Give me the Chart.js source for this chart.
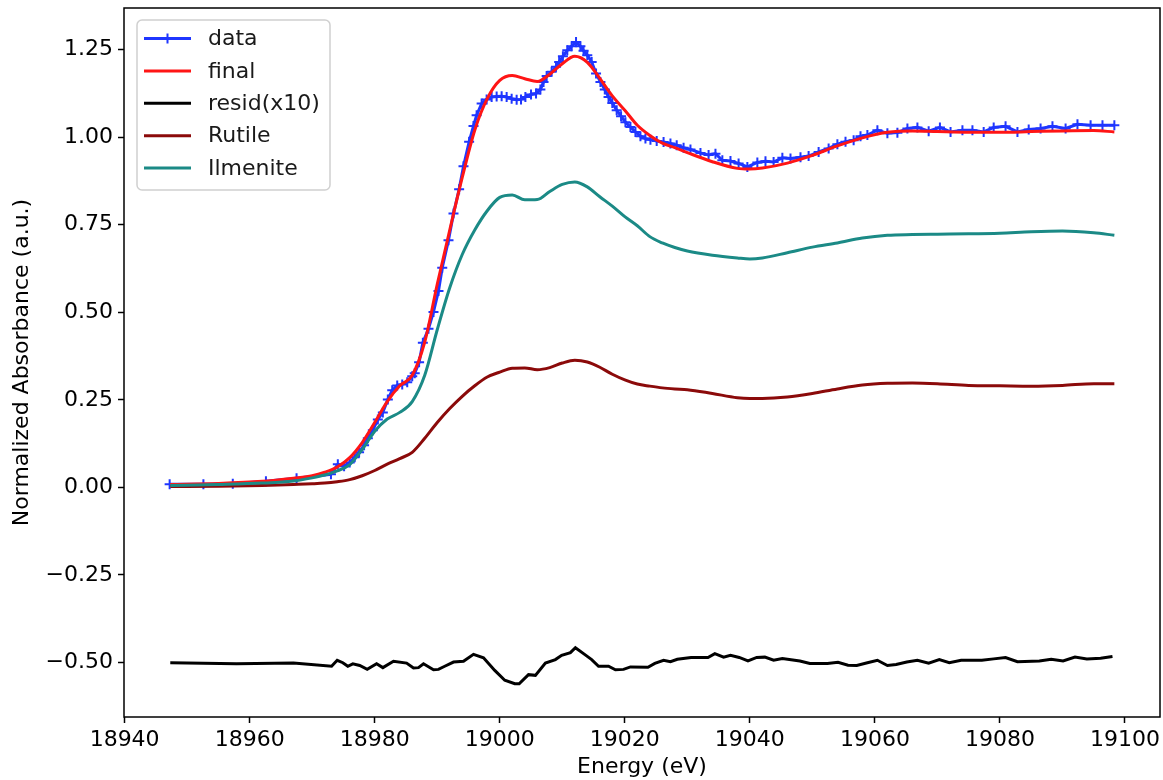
<!DOCTYPE html>
<html>
<head>
<meta charset="utf-8">
<title>Ti K-edge XANES fit</title>
<script src="https://cdn.jsdelivr.net/npm/chart.js@4.4.1/dist/chart.umd.min.js"></script>
<style>
    html, body { margin: 0; padding: 0; background: #fff; }
    #wrap { width: 1163px; height: 780px; }
</style>
</head>
<body>
<div id="wrap"><canvas id="xanesChart" width="1163" height="780"></canvas></div>
<script>
// ── Data ─────────────────────────────────────────────────────
const dataEnergy = [
    18947.2, 18952.6, 18957.3, 18962.6, 18967.5, 18973.0, 18974.1, 18975.1, 18976.0, 18976.8,
    18977.5, 18978.3, 18978.9, 18979.7, 18980.5, 18981.3, 18982.1, 18982.8, 18983.6, 18984.4,
    18985.2, 18986.0, 18986.4, 18987.1, 18987.7, 18988.6, 18989.4, 18990.2, 18990.8, 18991.8,
    18992.6, 18993.5, 18994.2, 18995.1, 18995.8, 18996.3, 18997.1, 18997.9, 18998.7, 18999.5,
    19000.3, 19001.1, 19001.9, 19002.7, 19003.4, 19004.1, 19005.0, 19005.8, 19006.5, 19007.0,
    19007.5, 19008.3, 19009.0, 19009.5, 19010.1, 19010.8, 19011.5, 19012.2, 19012.9, 19013.4,
    19014.0, 19014.7, 19015.4, 19016.1, 19016.8, 19017.4, 19018.0, 19018.7, 19019.4, 19020.1,
    19020.9, 19021.7, 19022.5, 19023.3, 19024.1, 19025.1, 19026.2, 19027.3, 19028.3, 19029.4,
    19030.5, 19032.1, 19033.4, 19034.5, 19035.6, 19036.9, 19038.2, 19039.6, 19041.2, 19042.5,
    19043.8, 19045.2, 19046.5, 19048.1, 19049.4, 19051.0, 19052.6, 19054.0, 19055.3, 19056.6,
    19057.7, 19058.8, 19060.4, 19062.0, 19063.6, 19065.2, 19066.8, 19068.6, 19070.4, 19072.1,
    19074.0, 19075.6, 19077.4, 19079.0, 19080.9, 19082.8, 19084.6, 19086.5, 19088.4, 19090.5,
    19092.4, 19094.5, 19096.4, 19098.3
];
const dataMu = [
    0.009, 0.009, 0.010, 0.017, 0.026, 0.037, 0.066, 0.060, 0.071, 0.086,
    0.100, 0.120, 0.140, 0.163, 0.194, 0.214, 0.251, 0.277, 0.291, 0.294,
    0.300, 0.317, 0.326, 0.357, 0.413, 0.453, 0.501, 0.561, 0.627, 0.706,
    0.782, 0.851, 0.917, 0.987, 1.032, 1.063, 1.096, 1.108, 1.115, 1.116,
    1.117, 1.115, 1.110, 1.107, 1.108, 1.115, 1.122, 1.125, 1.136, 1.158,
    1.175, 1.187, 1.201, 1.215, 1.231, 1.248, 1.260, 1.272, 1.260, 1.247,
    1.234, 1.215, 1.182, 1.158, 1.136, 1.115, 1.098, 1.077, 1.060, 1.043,
    1.029, 1.015, 1.003, 0.996, 0.993, 0.989, 0.986, 0.982, 0.977, 0.970,
    0.965, 0.955, 0.949, 0.953, 0.934, 0.932, 0.925, 0.915, 0.928, 0.931,
    0.929, 0.941, 0.939, 0.943, 0.946, 0.958, 0.968, 0.980, 0.987, 0.991,
    1.003, 1.006, 1.020, 1.011, 1.013, 1.025, 1.028, 1.017, 1.028, 1.015,
    1.020, 1.020, 1.015, 1.028, 1.031, 1.015, 1.022, 1.025, 1.031, 1.025,
    1.037, 1.034, 1.034, 1.034
];

const fitEnergy = [
    18947.3, 18955, 18962, 18967, 18970, 18972, 18974, 18976, 18978, 18980,
    18982, 18984, 18986, 18988, 18990, 18992, 18994, 18996, 18998, 19000,
    19002, 19004, 19006, 19008, 19010, 19012, 19014, 19016, 19018, 19020,
    19022, 19024, 19026, 19028, 19030, 19034, 19038, 19040, 19042, 19046,
    19050, 19054, 19058, 19062, 19066, 19070, 19075, 19080, 19085, 19090,
    19095, 19098.3
];
const finalFit = [
    0.008, 0.011, 0.017, 0.026, 0.033, 0.043, 0.058, 0.085, 0.128, 0.185,
    0.245, 0.290, 0.320, 0.415, 0.580, 0.735, 0.885, 1.020, 1.110, 1.162,
    1.176, 1.167, 1.159, 1.180, 1.210, 1.231, 1.214, 1.168, 1.118, 1.077,
    1.034, 1.005, 0.983, 0.970, 0.956, 0.930, 0.911, 0.909, 0.912, 0.926,
    0.948, 0.975, 0.998, 1.014, 1.018, 1.016, 1.014, 1.014, 1.016, 1.018,
    1.019, 1.015
];
const ilmeniteRef = [
    0.005, 0.008, 0.012, 0.018, 0.027, 0.035, 0.047, 0.065, 0.108, 0.160,
    0.195, 0.214, 0.245, 0.320, 0.450, 0.570, 0.665, 0.735, 0.790, 0.828,
    0.835, 0.821, 0.822, 0.845, 0.865, 0.872, 0.858, 0.830, 0.803, 0.773,
    0.747, 0.716, 0.698, 0.685, 0.675, 0.663, 0.655, 0.652, 0.655, 0.670,
    0.686, 0.698, 0.712, 0.720, 0.722, 0.723, 0.724, 0.726, 0.730, 0.732,
    0.727, 0.720
];
const rutileRef = [
    0.002, 0.003, 0.005, 0.008, 0.010, 0.012, 0.016, 0.022, 0.033, 0.048,
    0.066, 0.082, 0.100, 0.140, 0.185, 0.225, 0.260, 0.290, 0.315, 0.329,
    0.340, 0.341, 0.336, 0.342, 0.355, 0.363, 0.358, 0.343, 0.323, 0.307,
    0.295, 0.289, 0.284, 0.281, 0.279, 0.268, 0.256, 0.254, 0.254, 0.258,
    0.268, 0.281, 0.292, 0.297, 0.298, 0.296, 0.291, 0.290, 0.289, 0.291,
    0.296, 0.296
];

const residEnergy = [
    18947.3, 18957.9, 18967.0, 18973.1, 18974.0, 18974.9, 18975.7, 18976.5, 18977.6, 18978.8,
    18980.3, 18981.3, 18983.0, 18985.1, 18986.2, 18987.0, 18987.8, 18989.4, 18990.2, 18991.2,
    18992.6, 18994.2, 18995.8, 18997.4, 18999.2, 19000.8, 19002.4, 19003.1, 19004.6, 19005.7,
    19007.3, 19008.9, 19009.9, 19011.3, 19012.1, 19013.4, 19014.7, 19015.8, 19017.4, 19018.5,
    19019.8, 19020.9, 19023.7, 19024.8, 19026.2, 19027.3, 19028.4, 19030.6, 19033.3, 19034.4,
    19035.8, 19036.9, 19038.3, 19039.7, 19041.1, 19042.4, 19043.8, 19045.2, 19048.0, 19049.6,
    19052.4, 19054.1, 19055.7, 19057.1, 19058.8, 19060.4, 19062.0, 19063.4, 19065.1, 19066.8,
    19068.6, 19070.3, 19071.9, 19073.8, 19077.1, 19079.0, 19080.9, 19082.8, 19086.3, 19088.2,
    19090.1, 19092.0, 19093.9, 19096.1, 19098.0
];
const residX10 = [
    -0.501, -0.504, -0.502, -0.511, -0.494, -0.501, -0.511, -0.504, -0.509, -0.520,
    -0.504, -0.515, -0.497, -0.502, -0.516, -0.515, -0.504, -0.521, -0.520, -0.511,
    -0.499, -0.497, -0.477, -0.487, -0.523, -0.551, -0.561, -0.561, -0.535, -0.537,
    -0.502, -0.492, -0.480, -0.472, -0.458, -0.475, -0.492, -0.511, -0.511, -0.521,
    -0.520, -0.513, -0.514, -0.503, -0.494, -0.498, -0.491, -0.486, -0.486, -0.475,
    -0.485, -0.480, -0.486, -0.496, -0.486, -0.485, -0.494, -0.489, -0.496, -0.503,
    -0.503, -0.500, -0.508, -0.509, -0.501, -0.494, -0.509, -0.506, -0.499, -0.494,
    -0.502, -0.492, -0.501, -0.494, -0.494, -0.490, -0.486, -0.498, -0.496, -0.491,
    -0.496, -0.485, -0.490, -0.488, -0.483
];

const seriesLabels = ['data', 'final', 'resid(x10)', 'Rutile', 'Ilmenite'];
const xTicks = [18940, 18960, 18980, 19000, 19020, 19040, 19060, 19080, 19100];
const yTicks = [-0.5, -0.25, 0, 0.25, 0.5, 0.75, 1.0, 1.25];

// ── Helpers ──────────────────────────────────────────────────
const FONT = 'DejaVu Sans';
const FONT_SIZE = 22;
const toPoints = (xs, ys) => xs.map((x, i) => ({ x: x, y: ys[i] }));
const fmtY = v => (v < 0 ? '\u2212' : '') + Math.abs(v).toFixed(2);

// frame on all four sides, like matplotlib spines
const framePlugin = {
    id: 'frame',
    afterDatasetsDraw(chart) {
        const a = chart.chartArea;
        const ctx = chart.ctx;
        ctx.save();
        ctx.strokeStyle = '#000';
        ctx.lineWidth = 1.5;
        ctx.strokeRect(a.left, a.top, a.right - a.left, a.bottom - a.top);
        ctx.restore();
    }
};

// legend box in the upper left corner
const legendPlugin = {
    id: 'boxLegend',
    afterDraw(chart) {
        const ctx = chart.ctx;
        const a = chart.chartArea;
        const bx = a.left + 13, by = a.top + 12, bw = 193, bh = 170;
        ctx.save();
        ctx.beginPath();
        ctx.roundRect(bx, by, bw, bh, 5);
        ctx.fillStyle = 'rgba(255,255,255,0.85)';
        ctx.fill();
        ctx.strokeStyle = '#d0d0d0';
        ctx.lineWidth = 1.5;
        ctx.stroke();

        ctx.font = FONT_SIZE + 'px "' + FONT + '"';
        ctx.textBaseline = 'middle';
        ctx.textAlign = 'left';
        chart.data.datasets.forEach((ds, i) => {
            const y = by + 18.5 + i * 32.4;
            const x0 = bx + 7, x1 = bx + 54;
            ctx.strokeStyle = ds.borderColor;
            ctx.lineWidth = 3;
            ctx.beginPath();
            ctx.moveTo(x0, y);
            ctx.lineTo(x1, y);
            ctx.stroke();
            if (ds.pointRadius > 0) {
                const cx = (x0 + x1) / 2, r = ds.pointRadius;
                ctx.lineWidth = ds.pointBorderWidth;
                ctx.beginPath();
                ctx.moveTo(cx - r, y); ctx.lineTo(cx + r, y);
                ctx.moveTo(cx, y - r); ctx.lineTo(cx, y + r);
                ctx.stroke();
            }
            ctx.fillStyle = '#1a1a1a';
            ctx.fillText(ds.label, bx + 71, y + 1);
        });
        ctx.restore();
    }
};

// ── Chart ────────────────────────────────────────────────────
const ctx = document.getElementById('xanesChart');
new Chart(ctx, {
    type: 'line',
    data: {
        datasets: [{
            label: seriesLabels[0],
            data: toPoints(dataEnergy, dataMu),
            borderColor: '#1f36ff', backgroundColor: '#1f36ff',
            borderWidth: 3, pointStyle: 'cross', pointRadius: 5, pointBorderWidth: 2,
            pointBorderColor: '#1f36ff', tension: 0, order: 5
        }, {
            label: seriesLabels[1],
            data: toPoints(fitEnergy, finalFit),
            borderColor: '#ff1515', borderWidth: 3, pointRadius: 0,
            cubicInterpolationMode: 'monotone', order: 4
        }, {
            label: seriesLabels[2],
            data: toPoints(residEnergy, residX10),
            borderColor: '#000000', borderWidth: 3, pointRadius: 0,
            tension: 0, order: 3
        }, {
            label: seriesLabels[3],
            data: toPoints(fitEnergy, rutileRef),
            borderColor: '#8b0a0a', borderWidth: 3, pointRadius: 0,
            cubicInterpolationMode: 'monotone', order: 2
        }, {
            label: seriesLabels[4],
            data: toPoints(fitEnergy, ilmeniteRef),
            borderColor: '#1b8a86', borderWidth: 3, pointRadius: 0,
            cubicInterpolationMode: 'monotone', order: 1
        }]
    },
    options: {
        responsive: false, animation: false, devicePixelRatio: 1,
        layout: { autoPadding: false, padding: { top: 8, right: 3, left: 0, bottom: 0 } },
        plugins: { legend: { display: false }, tooltip: { enabled: false } },
        font: { family: FONT },
        scales: {
            x: {
                type: 'linear', min: 18939.9, max: 19105.6,
                afterFit: s => { s.height = 63; s.paddingLeft = 0; s.paddingRight = 0; },
                afterBuildTicks: s => { s.ticks = xTicks.map(v => ({ value: v })); },
                grid: { drawOnChartArea: false, drawTicks: true, tickLength: 6, tickWidth: 1.5, tickColor: '#000' },
                border: { display: false },
                ticks: {
                    color: '#000', padding: 4, maxRotation: 0, autoSkip: false,
                    font: { family: FONT, size: FONT_SIZE },
                    callback: v => String(v)
                },
                title: {
                    display: true, text: 'Energy (eV)', color: '#000',
                    font: { family: FONT, size: FONT_SIZE }, padding: { top: 0, bottom: 0 }
                }
            },
            y: {
                type: 'linear', min: -0.656, max: 1.369,
                afterFit: s => { s.width = 124; s.paddingTop = 0; s.paddingBottom = 0; },
                afterBuildTicks: s => { s.ticks = yTicks.map(v => ({ value: v })); },
                grid: { drawOnChartArea: false, drawTicks: true, tickLength: 6, tickWidth: 1.5, tickColor: '#000' },
                border: { display: false },
                ticks: {
                    color: '#000', padding: 5, autoSkip: false,
                    font: { family: FONT, size: FONT_SIZE },
                    callback: v => fmtY(v)
                },
                title: {
                    display: true, text: 'Normalized Absorbance (a.u.)', color: '#000',
                    font: { family: FONT, size: FONT_SIZE }, padding: { top: 9, bottom: 0 }
                }
            }
        }
    },
    plugins: [framePlugin, legendPlugin]
});
</script>
</body>
</html>
